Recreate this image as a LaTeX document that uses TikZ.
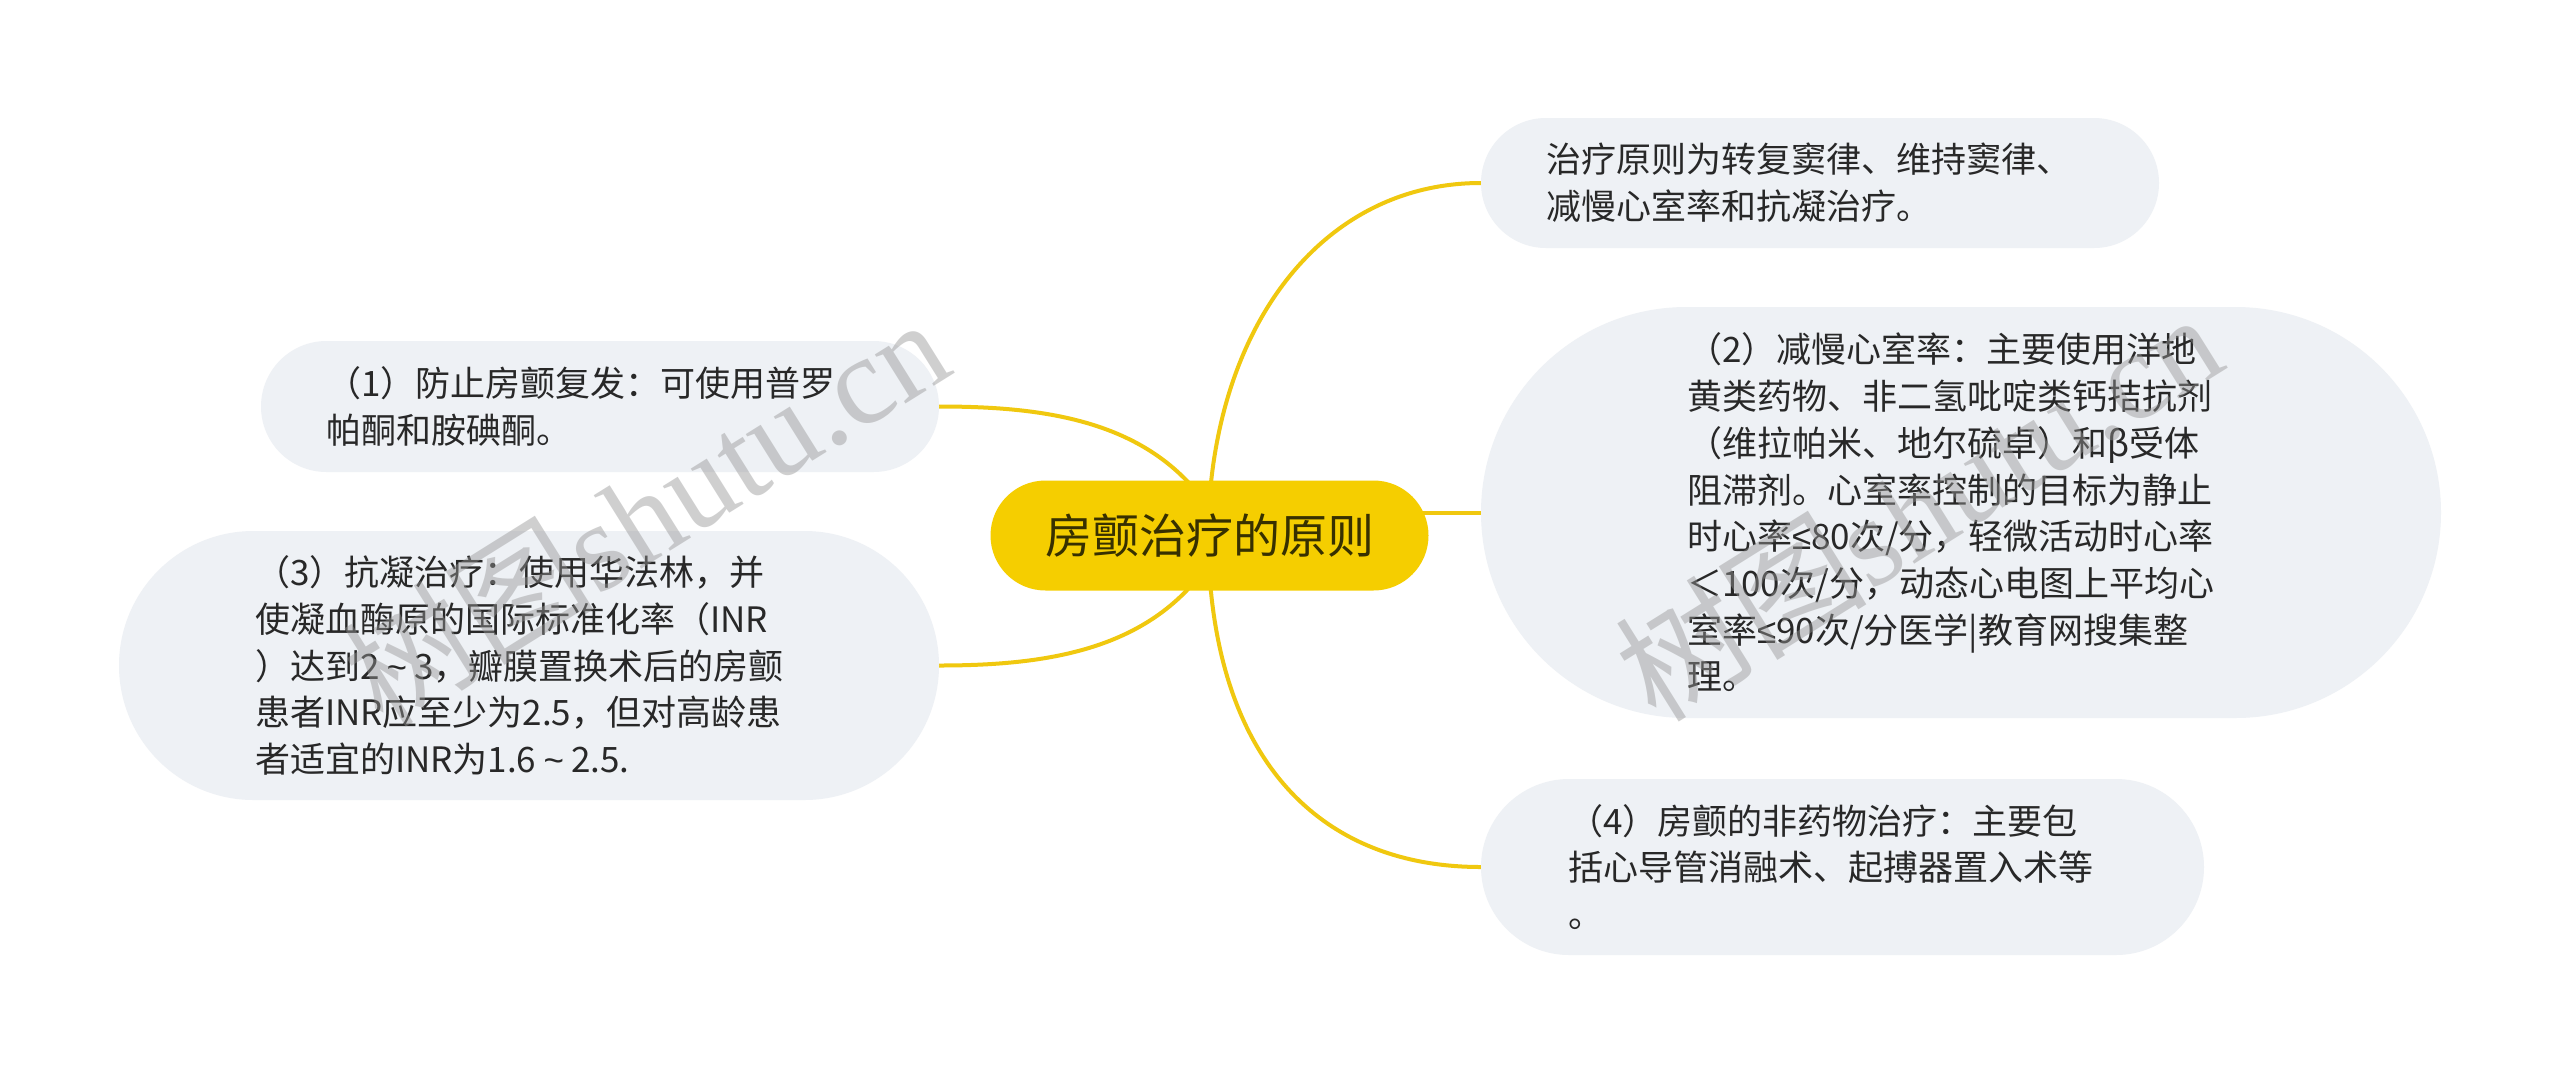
\documentclass[tikz,border=0pt]{standalone}
\usepackage{fontspec}
\setmainfont{Noto Sans CJK SC}
\newfontfamily\wmserif{Liberation Serif}
\newfontfamily\symfont{Liberation Sans}
\newcommand{\myleq}{{\symfont ≤}}
\newcommand{\mytilde}{\makebox[1em]{\symfont\textasciitilde}}
\usetikzlibrary{backgrounds}
\definecolor{leaffill}{RGB}{238,241,245}
\definecolor{rootfill}{RGB}{245,206,0}
\definecolor{linkcol}{RGB}{240,200,15}
\definecolor{bodytext}{RGB}{40,40,40}
\definecolor{roottext}{RGB}{55,48,0}
\definecolor{wmcol}{RGB}{150,150,150}
\begin{document}
\begin{tikzpicture}[x=1pt,y=-1pt,
  leaf/.style={fill=leaffill, text=bodytext, inner sep=0pt, text width=548pt, align=left,
    font=\fontsize{35}{46.7}\selectfont},
  root/.style={fill=rootfill, text=roottext, inner sep=0pt, align=center,
    font=\fontsize{47}{56}\selectfont},
  link/.style={draw=linkcol, line width=4pt},
  wmark/.style={text=wmcol, opacity=0.45, rotate=32, inner sep=0pt,
    font=\fontsize{126}{126}\selectfont}]
\useasboundingbox (0,0) rectangle (2560,1072);

\node[root, minimum width=438pt, minimum height=110pt, rounded corners=55pt] (c) at (1209.5,535.5) {房颤治疗的原则};

\node[leaf, minimum width=678pt, minimum height=130pt, rounded corners=65pt] (t) at (1820,183)
  {治疗原则为转复窦律、维持窦律、\\减慢心室率和抗凝治疗。};

\node[leaf, minimum width=960pt, minimum height=411pt, rounded corners=205.5pt] (n2) at (1961,512.5)
  {（2）减慢心室率：主要使用洋地\\黄类药物、非二氢吡啶类钙拮抗剂\\（维拉帕米、地尔硫卓）和β受体\\阻滞剂。心室率控制的目标为静止\\时心率\myleq 80次/分，轻微活动时心率\\＜100次/分，动态心电图上平均心\\室率\myleq 90次/分医学|教育网搜集整\\理。};

\node[leaf, minimum width=723pt, minimum height=176pt, rounded corners=88pt] (n4) at (1842.5,867)
  {（4）房颤的非药物治疗：主要包\\括心导管消融术、起搏器置入术等\\。};

\node[leaf, minimum width=678pt, minimum height=131pt, rounded corners=65.5pt] (n1) at (600,406.5)
  {（1）防止房颤复发：可使用普罗\\帕酮和胺碘酮。};

\node[leaf, minimum width=820pt, minimum height=269pt, rounded corners=134.5pt] (n3) at (529,665.5)
  {（3）抗凝治疗：使用华法林，并\\使凝血酶原的国际标准化率（INR\\）达到2\mytilde 3，瓣膜置换术后的房颤\\患者INR应至少为2.5，但对高龄患\\者适宜的INR为1.6\mytilde 2.5.};

\coordinate (oL) at (1225,535.5);
\coordinate (oR) at (1208,535.5);
\coordinate (oM) at (1300,512.5);

\begin{scope}[on background layer]
  \fill[white] (0,0) rectangle (2560,1072);
  \draw[link] (n1.east) .. controls (1060,406.5) and (1170,425) .. (oL);
  \draw[link] (n3.east) .. controls (1060,665.5) and (1170,646) .. (oL);
  \draw[link] (oR) .. controls (1210,330) and (1320,183) .. (t.west);
  \draw[link] (oR) .. controls (1210,760) and (1320,867) .. (n4.west);
  \draw[link] (oM) -- (n2.west);
\end{scope}

\node[wmark] (w1) at (645,510) {树图{\wmserif shutu.cn}};
\node[wmark] (w2) at (1918,505) {树图{\wmserif shutu.cn}};
\end{tikzpicture}
\end{document}
